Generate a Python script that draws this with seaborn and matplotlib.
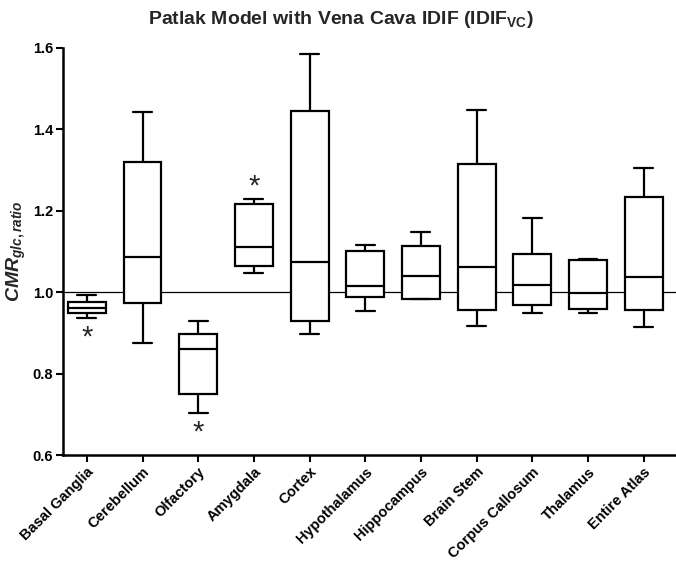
import pandas as pd
import seaborn as sns
import matplotlib
matplotlib.use('Agg')
import matplotlib.pyplot as plt

# Регионы мозга и статистика боксов (мин, Q1, медиана, Q3, макс)
regions = ['Basal Ganglia', 'Cerebellum', 'Olfactory', 'Amygdala', 'Cortex',
           'Hypothalamus', 'Hippocampus', 'Brain Stem', 'Corpus Callosum',
           'Thalamus', 'Entire Atlas']
mins = [0.936, 0.876, 0.702, 1.048, 0.897, 0.953, 0.983, 0.916, 0.949, 0.949, 0.915]
q1s = [0.950, 0.973, 0.749, 1.064, 0.930, 0.988, 0.983, 0.957, 0.968, 0.959, 0.955]
medians = [0.961, 1.087, 0.860, 1.111, 1.074, 1.015, 1.039, 1.063, 1.017, 0.998, 1.038]
q3s = [0.976, 1.319, 0.898, 1.216, 1.445, 1.101, 1.113, 1.316, 1.093, 1.079, 1.233]
maxs = [0.994, 1.443, 0.929, 1.228, 1.585, 1.115, 1.147, 1.447, 1.181, 1.082, 1.305]
# Значимость: звёздочка над или под боксом
signif = ['below', None, 'below', 'above', None, None, None, None, None, None, None]

sns.set_style('ticks')
plt.rcParams['font.family'] = ['Liberation Sans', 'DejaVu Sans']
plt.rcParams['font.weight'] = 'bold'
plt.rcParams['mathtext.fontset'] = 'custom'
plt.rcParams['mathtext.rm'] = 'Liberation Sans'
plt.rcParams['mathtext.it'] = 'Liberation Sans:italic'
plt.rcParams['mathtext.bf'] = 'Liberation Sans:bold'
plt.rcParams['mathtext.bfit'] = 'Liberation Sans:italic:bold'


def build_frame():
    """Пять точек на регион: квартили совпадают с заданными значениями."""
    rows = []
    for i, r in enumerate(regions):
        for v in (mins[i], q1s[i], medians[i], q3s[i], maxs[i]):
            rows.append({'region': r, 'value': v})
    return pd.DataFrame(rows)


df = build_frame()

fig = plt.figure(figsize=(6.76, 5.67), dpi=100)
ax = fig.add_axes([0.093, 0.1975, 0.907, 0.718])

ax.axhline(1.0, color='black', linewidth=0.9, zorder=1)
sns.boxplot(data=df, x='region', y='value', order=regions, whis=(0, 100),
            color='white', linecolor='black', linewidth=1.6, width=0.68,
            ax=ax, zorder=2)

for i, s in enumerate(signif):
    if s == 'above':
        ax.annotate('*', (i, maxs[i]), xytext=(0, -1), textcoords='offset points',
                    ha='center', va='bottom', fontsize=21, fontweight='normal')
    elif s == 'below':
        ax.annotate('*', (i, mins[i]), xytext=(0, -4), textcoords='offset points',
                    ha='center', va='top', fontsize=21, fontweight='normal')

ax.set_ylim(0.6, 1.6)
ax.set_xlim(-0.43, 10.58)
ax.set_yticks([0.6, 0.8, 1.0, 1.2, 1.4, 1.6])
ax.set_yticklabels([f'{t:.1f}' for t in [0.6, 0.8, 1.0, 1.2, 1.4, 1.6]],
                   fontsize=10.5, fontweight='bold')
ax.set_xticks(range(len(regions)))
ax.set_xticklabels(regions, rotation=45, ha='right', rotation_mode='anchor',
                   fontsize=10.5, fontweight='bold')
ax.set_xlabel('')
ax.set_ylabel(r'$\mathbfit{CMR}_{\mathit{glc,ratio}}$', fontsize=14, labelpad=3)
ax.tick_params(axis='both', direction='out', length=5, width=1.5, colors='black', pad=2)
for side in ['top', 'right']:
    ax.spines[side].set_visible(False)
for side in ['left', 'bottom']:
    ax.spines[side].set_linewidth(1.8)
    ax.spines[side].set_color('black')

fig.suptitle(r'Patlak Model with Vena Cava IDIF (IDIF$_{\mathrm{VC}}$)',
             x=0.505, y=0.985, fontsize=14, fontweight='bold')

fig.savefig('out.png', dpi=100)
